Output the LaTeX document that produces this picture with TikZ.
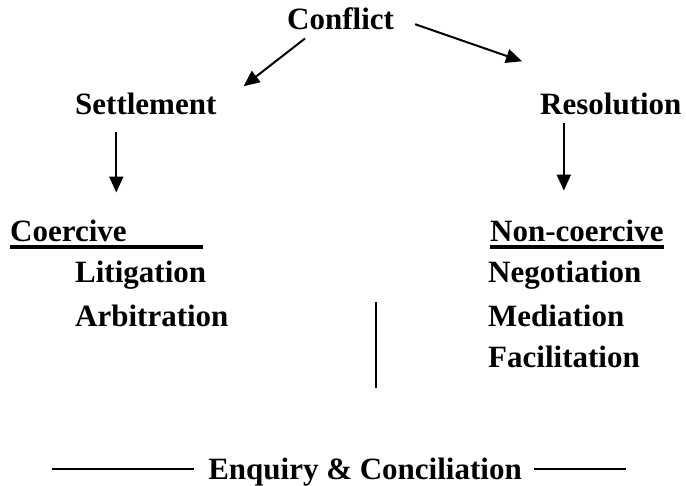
\documentclass[tikz,border=0pt]{standalone}
\usepackage{fontspec}
\setmainfont{Liberation Serif}
\usetikzlibrary{arrows.meta}
\tikzset{
    lbl/.style={inner sep=0pt, anchor=base west, font=\fontsize{31}{37}\selectfont\bfseries},
    arr/.style={line width=2pt, -{Triangle[length=16pt,width=14pt]}},
    rule/.style={line width=1.6pt},
    ul/.style={line width=3.2pt}
}
\begin{document}
\begin{tikzpicture}[x=1pt,y=1pt]
    \useasboundingbox (0,0) rectangle (686,-486);
    \node[lbl] (conflict) at (287,-30) {Conflict};
    \node[lbl] (settle) at (75,-115) {Settlement};
    \node[lbl] (resol) at (540,-115) {Resolution};
    \node[lbl] (coer) at (10,-242) {Coercive};
    \node[lbl] (noncoer) at (490,-242) {Non-coercive};
    \node[lbl] (litig) at (75,-283) {Litigation};
    \node[lbl] (arbit) at (75,-327) {Arbitration};
    \node[lbl] (negot) at (488,-283) {Negotiation};
    \node[lbl] (media) at (488,-327) {Mediation};
    \node[lbl] (facil) at (488,-368) {Facilitation};
    \node[lbl, anchor=base] (enq) at (365,-479) {Enquiry \& Conciliation};
    \draw[arr] ([shift={(18,-8)}]conflict.south west) -- ([shift={(27,7)}]settle.north east);
    \draw[arr] ([shift={(21,-5)}]conflict.east) -- ([shift={(-18,32)}]resol.north west);
    \draw[arr] ([shift={(-29.5,-17)}]settle.south) -- ++(0,-60);
    \draw[arr] ([shift={(-47,-7)}]resol.south) -- ++(0,-68);
    \draw[ul] ([yshift=-5pt]coer.base west) -- ++(193,0);
    \draw[ul] ([yshift=-5pt]noncoer.base west) -- ([yshift=-5pt]noncoer.base east);
    \draw[rule] ([shift={(-112,3)}]media.north west) -- ++(0,-86);
    \draw[rule] ([shift={(-14,10)}]enq.base west) -- ++(-142,0);
    \draw[rule] ([shift={(12,10)}]enq.base east) -- ++(92,0);
\end{tikzpicture}
\end{document}
